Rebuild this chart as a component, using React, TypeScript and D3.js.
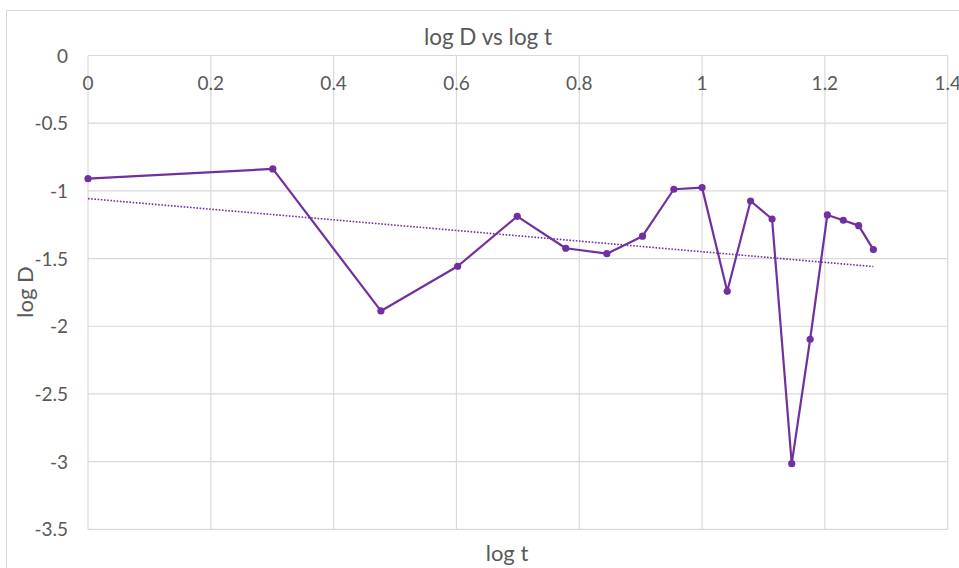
import React from "react";
import * as d3 from "d3";

const logT: number[] = [0, 0.301, 0.477, 0.602, 0.699, 0.778, 0.845, 0.903, 0.954, 1.0, 1.041, 1.079, 1.114, 1.146, 1.176, 1.204, 1.23, 1.255, 1.279];
const logD: number[] = [-0.91, -0.838, -1.887, -1.557, -1.188, -1.424, -1.464, -1.335, -0.988, -0.976, -1.742, -1.075, -1.208, -3.015, -2.096, -1.178, -1.217, -1.257, -1.434];
const xTicks: number[] = [0, 0.2, 0.4, 0.6, 0.8, 1, 1.2, 1.4];
const yTicks: number[] = [0, -0.5, -1, -1.5, -2, -2.5, -3, -3.5];
const title = "log D vs log t";
const xTitle = "log t";
const yTitle = "log D";

const W = 959;
const H = 568;
const PURPLE = "#7030A0";
const GRID = "#d9d9d9";
const TEXT = "#595959";
const FONT = "Lato, 'Open Sans', sans-serif";

export default function App() {
  const x = d3.scaleLinear().domain([0, 1.4]).range([88, 947.7]);
  const y = d3.scaleLinear().domain([-3.5, 0]).range([529.3, 55.5]);

  const pts = logT.map((t, i) => ({ t, d: logD[i] }));
  const line = d3
    .line<{ t: number; d: number }>()
    .x((p) => x(p.t))
    .y((p) => y(p.d));

  // linear least-squares trendline
  const mx = d3.mean(logT)!;
  const my = d3.mean(logD)!;
  let num = 0;
  let den = 0;
  logT.forEach((t, i) => {
    num += (t - mx) * (logD[i] - my);
    den += (t - mx) * (t - mx);
  });
  const slope = num / den;
  const icpt = my - slope * mx;
  const tMin = d3.min(logT)!;
  const tMax = d3.max(logT)!;

  return (
    <svg
      width={W}
      height={H}
      style={{ position: "absolute", left: 0, top: 0, background: "#fff" }}
      fontFamily={FONT}
    >
      <rect x={6.5} y={10.5} width={1000} height={1000} fill="#fff" stroke={GRID} strokeWidth={1} />

      {/* grid */}
      {yTicks.map((v) => (
        <line key={"gy" + v} x1={x(0)} x2={x(1.4)} y1={y(v)} y2={y(v)} stroke={GRID} strokeWidth={1.2} />
      ))}
      {xTicks.map((v) => (
        <line key={"gx" + v} x1={x(v)} x2={x(v)} y1={y(0)} y2={y(-3.5)} stroke={GRID} strokeWidth={1.2} />
      ))}

      {/* tick labels */}
      {xTicks.map((v) => (
        <text key={"tx" + v} x={x(v)} y={90} textAnchor="middle" fontSize={19} fill={TEXT}>
          {String(v)}
        </text>
      ))}
      {yTicks.map((v) => (
        <text key={"ty" + v} x={68} y={y(v) + 7} textAnchor="end" fontSize={19} fill={TEXT}>
          {String(v)}
        </text>
      ))}

      {/* titles */}
      <text x={488} y={44.5} textAnchor="middle" fontSize={22.5} fill={TEXT}>
        {title}
      </text>
      <text x={507} y={561} textAnchor="middle" fontSize={22} fill={TEXT}>
        {xTitle}
      </text>
      <text
        transform={`translate(33,292) rotate(-90)`}
        textAnchor="middle"
        fontSize={22}
        fill={TEXT}
      >
        {yTitle}
      </text>

      {/* trendline */}
      <line
        x1={x(tMin)}
        y1={y(icpt + slope * tMin)}
        x2={x(tMax)}
        y2={y(icpt + slope * tMax)}
        stroke={PURPLE}
        strokeWidth={1.6}
        strokeDasharray="1.6 1.6"
      />

      {/* series */}
      <path d={line(pts) ?? ""} fill="none" stroke={PURPLE} strokeWidth={2.2} strokeLinejoin="round" />
      {pts.map((p, i) => (
        <circle key={"p" + i} cx={x(p.t)} cy={y(p.d)} r={3.6} fill={PURPLE} />
      ))}
    </svg>
  );
}
